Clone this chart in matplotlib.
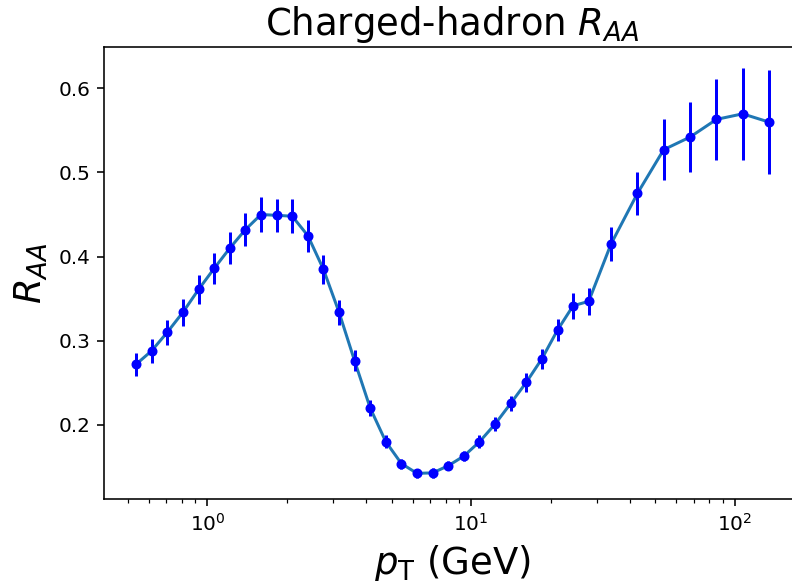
import numpy as np
import matplotlib
matplotlib.use("Agg")
import matplotlib.pyplot as plt

# pT bin centres (GeV)
pt = [0.537, 0.615, 0.705, 0.809, 0.927, 1.062, 1.217, 1.394, 1.598, 1.831,
      2.098, 2.404, 2.755, 3.157, 3.618, 4.146, 4.751, 5.444, 6.238, 7.148,
      8.191, 9.386, 10.76, 12.33, 14.13, 16.19, 18.55, 21.26, 24.36, 27.91,
      33.9, 42.7, 53.7, 67.6, 85.1, 107.0, 135.0]

raa = [0.272, 0.288, 0.310, 0.334, 0.361, 0.386, 0.410, 0.432, 0.450, 0.449,
       0.448, 0.425, 0.385, 0.334, 0.276, 0.220, 0.180, 0.154, 0.1425, 0.143,
       0.1515, 0.163, 0.180, 0.201, 0.2256, 0.2506, 0.2786, 0.3127, 0.3416, 0.3468,
       0.4148, 0.475, 0.527, 0.542, 0.563, 0.5696, 0.5597]

err = [0.014, 0.014, 0.015, 0.016, 0.017, 0.018, 0.019, 0.020, 0.021, 0.020,
       0.020, 0.019, 0.0172, 0.015, 0.0125, 0.0097, 0.0077, 0.0058, 0.0055, 0.0055,
       0.0055, 0.006, 0.0075, 0.0085, 0.009, 0.011, 0.0117, 0.0135, 0.0156, 0.016,
       0.020, 0.026, 0.0366, 0.0418, 0.0477, 0.0546, 0.062]

fig = plt.figure(figsize=(5.5, 581 / 144), dpi=144)
# axes run past the right edge, as in the cropped original
ax = fig.add_axes([104.3 / 792, (581 - 499) / 581, (800 - 104.3) / 792, (499 - 47) / 581])

ax.plot(pt, raa, color="#1f77b4", lw=1.5)
ax.errorbar(pt, raa, yerr=err, fmt="o", color="blue", markersize=4, elinewidth=1.5)

ax.set_xscale("log")
ax.set_xlim(0.407, 176.5)
ax.set_ylim(0.112, 0.649)
ax.set_yticks([0.2, 0.3, 0.4, 0.5, 0.6])

ax.set_title("Charged-hadron $R_{AA}$", fontsize=18.5)
ax.set_xlabel("$p_{\\mathrm{T}}$ (GeV)", fontsize=18.5)
ax.set_ylabel("$R_{AA}$", fontsize=18.5)

fig.savefig("out.png", dpi=144)
